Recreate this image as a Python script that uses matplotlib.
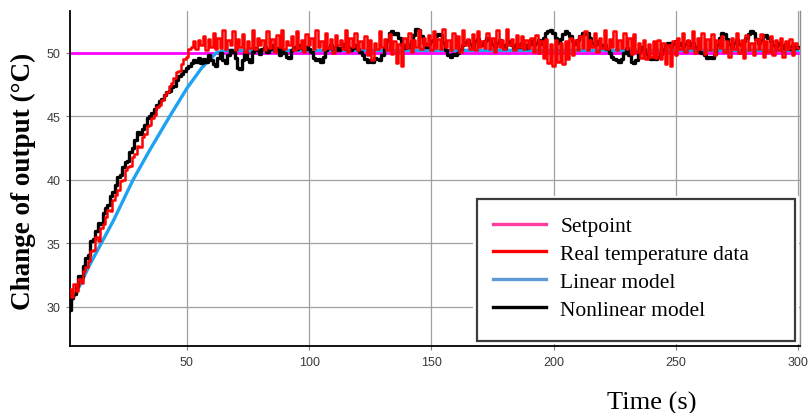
import matplotlib
matplotlib.use("Agg")
import matplotlib.pyplot as plt
from matplotlib.lines import Line2D
from matplotlib.patches import Rectangle

# ---------------- data ----------------
t_start, t_end = 2, 300

setpoint_t = [2, 300]
setpoint_v = [50.0, 50.0]

linear_t = [2, 5, 10, 15, 20, 28, 35, 43, 50, 56, 62, 66, 120, 200, 300]
linear_v = [30.2, 31.2, 33.2, 35.0, 36.8, 40.0, 42.4, 45.0, 47.2, 48.8, 50.0, 50.2, 50.2, 50.2, 50.2]

real_rise = [31.4, 30.8, 31.8, 31.2, 32.2, 31.9, 32.8, 33.1, 33.6, 34.4,
             34.5, 35.5, 35.2, 36.2, 36.5, 37.1, 37.6, 37.5, 38.4, 38.8,
             39.2, 39.9, 40.0, 40.8, 41.0, 41.1, 41.8, 42.0, 42.7, 42.6,
             43.4, 43.6, 44.2, 44.3, 44.9, 45.1, 45.7, 45.9, 46.3, 46.7,
             46.9, 47.4, 47.6, 48.0, 48.5, 48.6, 49.1, 49.5, 49.7, 50.3, 50.5]
real_plateau = [50.9, 50.3, 51.0, 50.6, 51.3, 50.2, 51.1, 50.5, 51.6, 50.3,
                51.2, 50.4, 51.8, 50.3, 51.0, 50.6, 51.7, 50.2, 51.1, 50.5,
                51.5, 50.1, 50.9, 50.4, 51.8, 50.3, 51.2, 50.6, 51.0, 50.2,
                51.7, 50.4, 51.1, 50.1, 51.4, 50.5, 51.8, 50.3, 50.9, 50.6,
                51.3, 50.2, 51.7, 50.4, 51.0, 50.1, 51.5, 50.6, 51.2, 50.3,
                51.8, 50.5, 50.9, 50.2, 51.6, 50.4, 51.1, 50.0, 51.4, 50.6,
                51.0, 50.3, 51.8, 50.1, 51.2, 50.5, 51.6, 50.2, 50.9, 50.4,
                51.3, 49.8, 51.0, 49.4, 50.8, 50.3, 51.7, 50.5, 51.1, 50.2,
                51.5, 49.9, 50.9, 49.2, 50.7, 49.0, 51.2, 50.4, 51.6, 50.1,
                51.0, 50.5, 51.8, 50.3, 51.2, 50.6, 51.4, 50.2, 51.7, 50.4,
                51.1, 50.3, 51.9, 50.5, 51.0, 50.2, 51.6, 50.4, 51.3, 50.1,
                51.8, 50.6, 51.1, 50.3, 51.5, 50.2, 51.7, 50.5, 50.9, 50.4,
                51.6, 50.3, 51.2, 50.1, 51.8, 50.5, 51.0, 50.3, 51.9, 50.6,
                51.1, 50.2, 51.4, 50.5, 51.3, 50.3, 51.0, 50.4, 51.2, 50.1,
                51.4, 50.0, 50.9, 49.6, 51.1, 49.2, 50.7, 49.0, 51.0, 49.3,
                50.8, 49.1, 50.9, 49.5, 51.2, 49.8, 51.0, 50.2, 51.3, 50.4,
                51.7, 50.2, 51.0, 50.5, 51.6, 50.1, 51.2, 50.4, 51.8, 50.3,
                51.1, 50.5, 51.7, 50.2, 51.0, 50.4, 51.6, 50.3, 51.2, 49.9,
                51.5, 50.1, 50.8, 49.6, 51.0, 49.5, 50.7, 49.7, 50.9, 49.6,
                51.0, 49.5, 50.8, 49.1, 50.6, 49.0, 50.9, 49.8, 51.2, 50.3,
                51.6, 50.1, 51.0, 50.4, 51.7, 50.0, 51.2, 50.3, 51.6, 49.9,
                51.1, 50.2, 51.5, 49.8, 51.0, 50.4, 51.3, 50.1, 50.9, 49.7,
                51.2, 50.3, 51.6, 50.0, 51.0, 49.6, 51.4, 50.2, 50.8, 49.8,
                51.1, 50.3, 51.5, 49.7, 50.9, 50.1, 51.3, 49.8, 51.0, 50.2,
                51.2, 49.7, 50.9, 50.3, 51.1, 49.8, 50.8, 50.4]

nonlin_rise = [29.7, 30.7, 31.0, 31.6, 32.4, 32.3, 33.2, 33.8, 34.1, 35.2,
               35.3, 36.0, 36.6, 36.5, 37.4, 37.8, 38.0, 38.7, 39.0, 39.6,
               40.2, 40.4, 41.0, 41.4, 41.5, 42.2, 42.5, 43.1, 43.8, 43.6,
               44.0, 44.3, 44.9, 45.0, 45.3, 45.6, 45.9, 46.2, 46.4, 46.7,
               46.9, 47.0, 47.3, 47.4, 47.9, 48.2, 48.3, 48.6, 48.8, 49.0, 49.2]
nonlin_plateau = [49.4, 49.3, 49.6, 49.2, 49.5, 49.3, 49.8, 49.4,
                  49.1, 49.0, 49.6, 50.0, 49.4, 49.2, 49.8, 50.2, 50.1, 49.6,
                  48.8, 48.7, 49.4, 50.0, 49.5, 49.3, 50.1, 50.4, 50.2, 49.9,
                  50.3, 50.5, 50.1, 50.3, 50.6, 50.2, 50.4, 49.8, 50.3, 50.0,
                  49.7, 49.6, 50.2, 50.5, 50.3, 50.6, 50.4, 50.2, 50.5, 50.3,
                  50.1, 49.6, 49.4, 49.5, 49.3, 49.7, 50.2, 50.4, 50.6, 50.3,
                  50.5, 50.2, 50.4, 50.7, 50.3, 50.5, 50.2, 50.4, 50.6, 50.3,
                  50.1, 49.8, 49.5, 49.3, 49.4, 49.3, 49.6, 49.5, 49.4, 49.8,
                  50.4, 51.0, 51.6, 51.7, 51.5, 51.6, 51.2, 50.6, 50.4, 50.7,
                  50.5, 50.9, 51.4, 51.9, 51.8, 51.3, 50.8, 50.5, 50.7, 50.9,
                  51.0, 51.3, 51.5, 51.4, 50.8, 50.2, 49.8, 49.7, 49.9, 49.8,
                  50.0, 50.3, 50.6, 50.8, 51.0, 50.7, 50.5, 50.9, 51.1, 50.8,
                  50.6, 50.9, 51.2, 51.0, 50.7, 50.5, 50.8, 51.0, 50.6, 50.4,
                  50.7, 50.9, 50.6, 50.4, 50.7, 50.5, 50.8, 50.6, 50.4, 50.7,
                  50.9, 50.6, 50.8, 51.0, 50.7, 51.2, 51.6, 51.7, 51.8, 51.6,
                  51.2, 50.8, 51.1, 51.5, 51.7, 51.6, 51.3, 50.9, 50.7, 51.0,
                  51.3, 51.6, 51.5, 51.6, 51.2, 50.8, 50.6, 50.9, 50.7, 50.5,
                  50.6, 50.3, 50.0, 49.7, 49.5, 49.4, 49.3, 49.5, 50.0, 50.4,
                  49.8, 49.3, 49.2, 49.4, 50.1, 50.5, 50.3, 49.9, 49.6, 49.5,
                  49.6, 49.5, 49.7, 49.9, 50.3, 50.6, 50.8, 50.5, 50.7, 50.9,
                  50.6, 50.8, 50.5, 50.7, 50.9, 50.6, 50.8, 50.5, 50.3, 50.1,
                  50.0, 49.8, 49.6, 49.7, 49.6, 49.9, 50.6, 51.2, 51.6, 51.5,
                  51.1, 50.7, 50.5, 50.8, 51.0, 50.7, 50.6, 50.9, 51.2, 51.5,
                  51.7, 51.6, 51.1, 50.8, 51.0, 51.3, 51.4, 51.2, 50.9, 50.6,
                  50.5, 50.8, 50.6, 50.4, 50.7, 50.5, 50.3, 50.6, 50.4, 50.5]

time = list(range(t_start, t_end + 1))
real_v = real_rise + real_plateau
nonlin_v = nonlin_rise + nonlin_plateau

x_ticks = [50, 100, 150, 200, 250, 300]
y_ticks = [30, 35, 40, 45, 50]
legend_labels = ["Setpoint", "Real temperature data", "Linear model", "Nonlinear model"]
legend_colors = ["#ff3d9e", "#ff0000", "#5b9bd8", "#000000"]

# ---------------- figure ----------------
W, H = 809, 414
fig = plt.figure(figsize=(W / 100, H / 100), dpi=100)
fig.patch.set_facecolor("white")

def px(x0, y0, x1, y1):
    return [x0 / W, 1 - y1 / H, (x1 - x0) / W, (y1 - y0) / H]

ax = fig.add_axes(px(70, 12, 800, 347))
ax.set_xlim(2.2, 300.8)
ax.set_ylim(26.9, 53.3)

ax.plot(setpoint_t, setpoint_v, color="#ff00ff", lw=2.0, zorder=2)
ax.plot(linear_t, linear_v, color="#1ea2f2", lw=2.4, zorder=3)
ax.plot(time, nonlin_v, color="#000000", lw=2.4, drawstyle="steps-mid", zorder=4)
ax.plot(time, real_v, color="#ff0000", lw=1.8, drawstyle="steps-mid", zorder=5)

ax.set_xticks(x_ticks)
ax.set_yticks(y_ticks)
ax.grid(True, color="#a0a0a0", lw=0.9)
ax.set_axisbelow(True)
ax.tick_params(axis="both", direction="out", length=3, width=0.8, color="#808080",
               labelsize=9, labelcolor="#3a3a3a", pad=4)
for lab in ax.get_xticklabels() + ax.get_yticklabels():
    lab.set_fontfamily("Liberation Sans")
ax.spines["top"].set_visible(False)
ax.spines["right"].set_color("#909090")
ax.spines["right"].set_linewidth(1.0)
ax.spines["left"].set_color("#000000")
ax.spines["left"].set_linewidth(1.3)
ax.spines["bottom"].set_color("#000000")
ax.spines["bottom"].set_linewidth(1.3)

# axis labels
fig.text(23 / W, 1 - 181 / H, "Change of output (°C)", rotation=90, ha="center", va="center",
         fontfamily="Liberation Serif", fontweight="bold", fontsize=19.5)
fig.text(652 / W, 1 - 410 / H, "Time (s)", ha="center", va="baseline",
         fontfamily="Liberation Serif", fontsize=19)

# legend box
fig.add_artist(Rectangle((473 / W, 1 - 345 / H), (799 - 473) / W, (345 - 197) / H,
                         transform=fig.transFigure, facecolor="white", edgecolor="none", zorder=3))
fig.add_artist(Rectangle((477 / W, 1 - 342 / H), (795 - 477) / W, (342 - 200) / H,
                         transform=fig.transFigure, facecolor="white", edgecolor="#3c3c3c",
                         lw=1.6, zorder=4))
handles = [Line2D([0], [0], color=c, lw=2.4) for c in legend_colors]
fig.legend(handles, legend_labels, loc="upper left", bbox_to_anchor=(493 / W, 1 - 217 / H),
           frameon=False, borderpad=0, borderaxespad=0, handlelength=2.45, handletextpad=0.68,
           labelspacing=0.36, prop={"family": "Liberation Serif", "size": 15.5})

fig.savefig("out.png", dpi=100)
